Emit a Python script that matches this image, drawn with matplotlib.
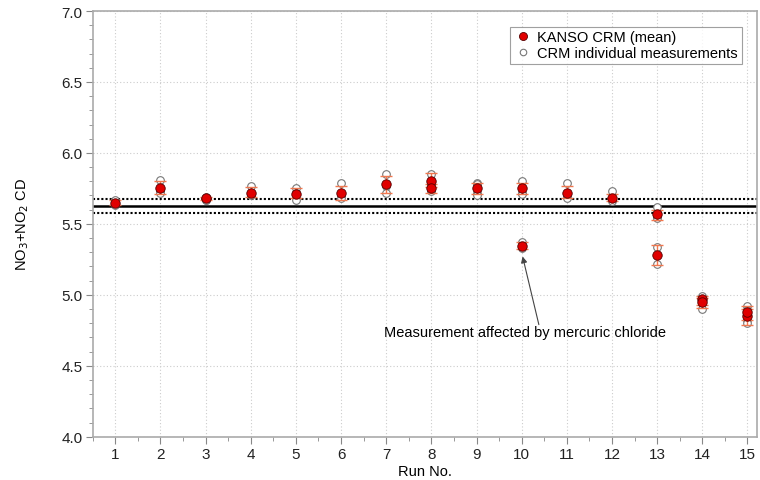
import matplotlib
matplotlib.use("Agg")
import matplotlib.pyplot as plt
from matplotlib.ticker import MultipleLocator
import numpy as np

plt.rcParams['font.family'] = ['Liberation Sans', 'DejaVu Sans']

# Mean values (one entry per measurement group)
mean_runs = [1, 2, 3, 4, 5, 6, 7, 8, 8, 9, 10, 10, 11, 12, 13, 13, 14, 14, 15, 15]
mean_vals = [5.65, 5.755, 5.68, 5.72, 5.71, 5.72, 5.78, 5.805, 5.755, 5.75,
             5.75, 5.345, 5.72, 5.68, 5.57, 5.28, 4.97, 4.95, 4.85, 4.88]
bar_low = [5.63, 5.71, 5.67, 5.69, 5.68, 5.67, 5.72, 5.76, 5.72, 5.71,
           5.71, 5.32, 5.68, 5.66, 5.53, 5.21, 4.93, 4.91, 4.79, 4.82]
bar_high = [5.67, 5.80, 5.69, 5.76, 5.75, 5.77, 5.84, 5.86, 5.78, 5.79,
            5.79, 5.37, 5.77, 5.71, 5.60, 5.35, 4.99, 4.98, 4.90, 4.92]

# Individual measurements
ind_runs = [1, 1, 1, 2, 2, 2, 3, 3, 3, 4, 4, 4, 5, 5, 5, 6, 6, 6, 7, 7, 7,
            8, 8, 8, 8, 8, 8, 9, 9, 9, 9, 10, 10, 10, 10, 10,
            11, 11, 11, 12, 12, 12, 13, 13, 13, 13, 13,
            14, 14, 14, 14, 15, 15, 15, 15]
ind_vals = [5.67, 5.64, 5.63, 5.81, 5.73, 5.72, 5.69, 5.67, 5.67,
            5.77, 5.71, 5.70, 5.75, 5.72, 5.67, 5.79, 5.70, 5.68,
            5.85, 5.77, 5.72, 5.85, 5.80, 5.77, 5.76, 5.74, 5.73,
            5.79, 5.78, 5.72, 5.70, 5.80, 5.72, 5.71, 5.37, 5.33,
            5.79, 5.70, 5.68, 5.73, 5.67, 5.66, 5.62, 5.55, 5.54, 5.34, 5.22,
            4.99, 4.97, 4.95, 4.90, 4.92, 4.89, 4.82, 4.80]

ref_mean = 5.627
ref_unc = 0.05
run_ticks = list(range(1, 16))

fig = plt.figure(figsize=(7.6, 4.81), dpi=100)
ax = fig.add_axes([0.122, 0.090, 0.874, 0.885])

ax.axhline(ref_mean, color='black', lw=1.8, zorder=2)
ax.axhline(ref_mean + ref_unc, color='black', lw=1.5, ls=(0, (1, 1)), zorder=2)
ax.axhline(ref_mean - ref_unc, color='black', lw=1.5, ls=(0, (1, 1)), zorder=2)

mv = np.array(mean_vals)
yerr = np.vstack([mv - np.array(bar_low), np.array(bar_high) - mv])
ax.plot(ind_runs, ind_vals, 'o', mfc='white', mec='#777777', mew=0.8, ms=5.5,
        ls='none', zorder=3, label='CRM individual measurements')
ax.errorbar(mean_runs, mean_vals, yerr=yerr, fmt='none', ecolor='#f07850',
            elinewidth=1.0, capsize=4, capthick=1.0, zorder=4)
ax.plot(mean_runs, mean_vals, 'o', mfc='#e00000', mec='#550000', mew=0.6, ms=6.8,
        ls='none', zorder=5, label='KANSO CRM (mean)')

ax.set_xlim(0.5, 15.21)
ax.set_ylim(4.0, 7.0)
ax.set_xticks(run_ticks)
ax.set_xticklabels([str(r) for r in run_ticks])
ax.xaxis.set_minor_locator(MultipleLocator(0.5))
ax.yaxis.set_major_locator(MultipleLocator(0.5))
ax.yaxis.set_minor_locator(MultipleLocator(0.1))
ax.yaxis.set_major_formatter(matplotlib.ticker.FormatStrFormatter('%.1f'))

ax.grid(True, which='major', color='#cccccc', ls=(0, (1, 2)), lw=0.8)
for s in ax.spines.values():
    s.set_color('#aaaaaa')
    s.set_linewidth(1.2)
ax.tick_params(which='major', direction='out', length=5, color='#888888',
               labelsize=11, labelcolor='#222222', pad=2.5)
ax.tick_params(which='minor', direction='out', length=3, color='#888888')

ax.set_xlabel('Run No.', fontsize=10.5, labelpad=2)
ax.set_ylabel('NO$_3$+NO$_2$ CD', fontsize=10.5, labelpad=22)

ax.text(10.08, 4.735, 'Measurement affected by mercuric chloride',
        ha='center', va='center', fontsize=10.5)
ax.annotate('', xy=(10.02, 5.27), xytext=(10.38, 4.79),
            arrowprops=dict(arrowstyle='-|>', color='#444444', lw=0.8,
                            shrinkA=0, shrinkB=0, mutation_scale=9))

handles, labels = ax.get_legend_handles_labels()
leg = ax.legend(handles[::-1], labels[::-1], loc='upper right',
                bbox_to_anchor=(0.988, 0.98), fontsize=10.5, frameon=True,
                fancybox=False, handletextpad=0.4, borderpad=0.25,
                handlelength=1.2, labelspacing=0.1, markerscale=0.85)
leg.get_frame().set_edgecolor('#888888')
leg.get_frame().set_linewidth(0.8)

fig.savefig('out.png', dpi=100)
